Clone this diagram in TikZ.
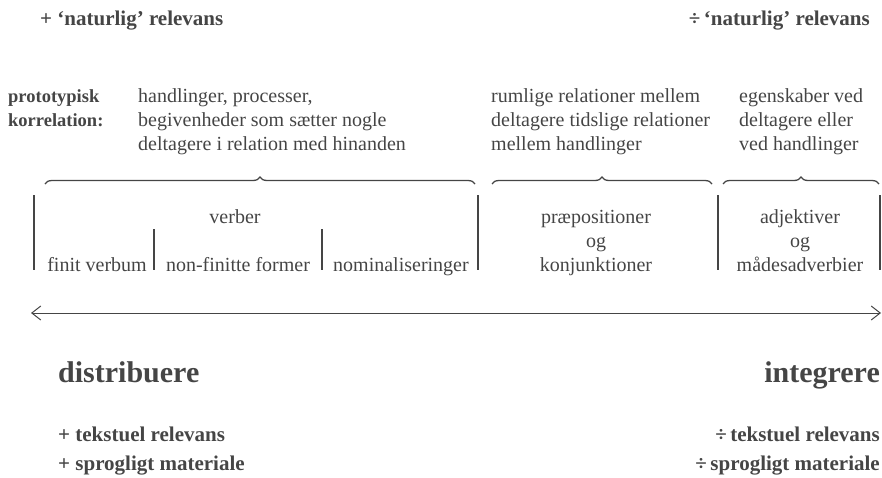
\documentclass[tikz,border=0pt]{standalone}
\usepackage{fontspec}
\setmainfont{Liberation Serif}
\usetikzlibrary{arrows.meta, decorations.pathreplacing}
\definecolor{ink}{HTML}{454545}

\begin{document}
\begin{tikzpicture}[x=1pt, y=-1pt, color=ink,
    txt/.style={font=\fontsize{20}{24}\selectfont, inner sep=0pt, anchor=base},
    lbl/.style={font=\fontsize{21}{29}\selectfont\bfseries, inner sep=0pt},
    big/.style={font=\fontsize{30}{34}\selectfont\bfseries, inner sep=0pt},
    bar/.style={line width=1.1pt},
    brc/.style={decorate, decoration={brace, amplitude=7pt}, line width=1.3pt}]
    \useasboundingbox (0,0) rectangle (882,477);

    % top
    \node[lbl, anchor=base west] (natplus) at (40,25) {+ ‘naturlig’ relevans};
    \node[lbl, anchor=base east] (natmin) at (870,25) {÷\,‘naturlig’ relevans};

    % korrelation
    \node[lbl, font=\fontsize{18.5}{24}\selectfont\bfseries, anchor=north west, align=left] (proto) at (8,89) {prototypisk\\korrelation:};
    \node[txt, anchor=north west, align=left] (kor1) at (138,88) {handlinger, processer,\\begivenheder som sætter nogle\\deltagere i relation med hinanden};
    \node[txt, anchor=north west, align=left] (kor2) at (491,88) {rumlige relationer mellem\\deltagere tidslige relationer\\mellem handlinger};
    \node[txt, anchor=north west, align=left] (kor3) at (739,88) {egenskaber ved\\deltagere eller\\ved handlinger};

    % braces
    \draw[brc] (45,184) -- (475,184);
    \draw[brc] (492,184) -- (712,184);
    \draw[brc] (723,184) -- (879,184);

    % bars
    \foreach \x in {34, 478, 718, 880} {
        \draw[bar] (\x,195) -- (\x,270);
    }
    \foreach \x in {154, 322} {
        \draw[bar] (\x,229) -- (\x,270);
    }

    % word classes
    \node[txt] (verber) at (235,223) {verber};
    \node[txt] (finit) at (97,271) {finit verbum};
    \node[txt] (nonfin) at (238,271) {non-finitte former};
    \node[txt] (nomin) at (401,271) {nominaliseringer};
    \node[txt] (praep) at (596,223) {præpositioner};
    \node[txt] (og1) at (596,247) {og};
    \node[txt] (konj) at (596,271) {konjunktioner};
    \node[txt] (adj) at (800,223) {adjektiver};
    \node[txt] (og2) at (800,247) {og};
    \node[txt] (made) at (800,271) {mådesadverbier};

    % scale
    \coordinate (arrL) at (31,313);
    \coordinate (arrR) at (881,313);
    \draw[line width=1pt, {Straight Barb[length=9pt, width=14pt]}-{Straight Barb[length=9pt, width=14pt]}] (arrL) -- (arrR);

    % bottom
    \node[big, anchor=base west] (distr) at (58,382) {distribuere};
    \node[big, anchor=base east] (integr) at (880,382) {integrere};
    \node[lbl, anchor=base west] (tekplus) at (58,441) {+ tekstuel relevans};
    \node[lbl, anchor=base west] (sprplus) at (58,470) {+ sprogligt materiale};
    \node[lbl, anchor=base east] (tekmin) at (880,441) {÷\,tekstuel relevans};
    \node[lbl, anchor=base east] (sprmin) at (880,470) {÷\,sprogligt materiale};
\end{tikzpicture}
\end{document}
